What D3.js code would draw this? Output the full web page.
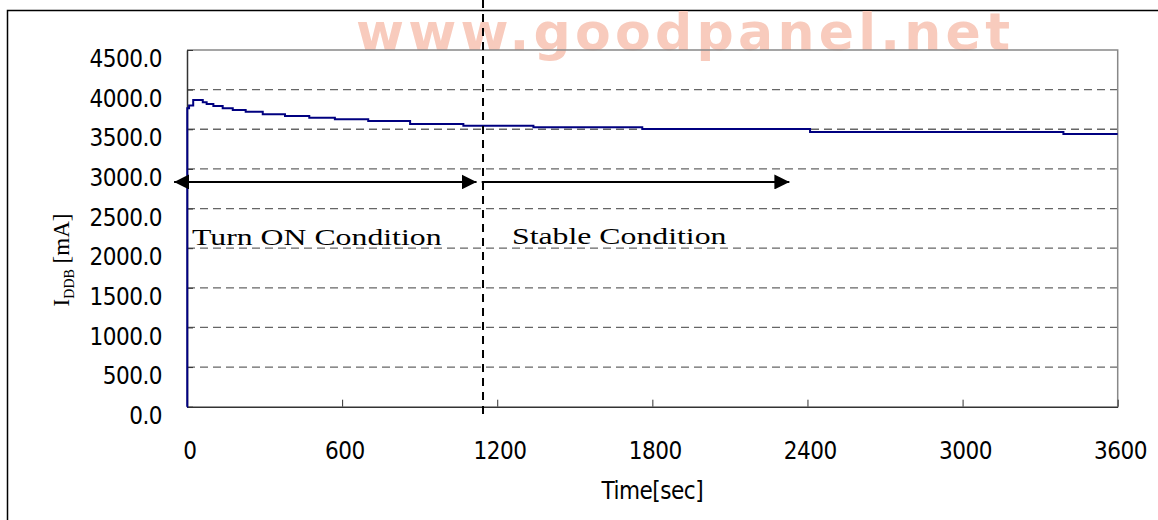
<!DOCTYPE html>
<html>
<head>
<meta charset="utf-8">
<script src="https://d3js.org/d3.v7.min.js"></script>
<style>
  body { margin: 0; background: #fff; }
  svg { display: block; }
</style>
</head>
<body>
<div id="chart"></div>
<script>
// time [sec] where the current changes, and the current [mA] from that time on
var times = [0, 1, 8, 24, 61, 76, 102, 138, 177, 227, 293, 379, 473, 572, 701, 863, 1069, 1340, 1761, 2410, 3390, 3600];
var current = [0, 3765, 3800, 3868, 3840, 3819, 3794, 3765, 3743, 3722, 3689, 3668, 3646, 3626, 3605, 3567, 3545, 3525, 3504, 3466, 3441, 3441];

// tick values of both axes
var xTicks = [0, 600, 1200, 1800, 2400, 3000, 3600];
var yTicks = [0, 500, 1000, 1500, 2000, 2500, 3000, 3500, 4000, 4500];

// annotations (in data units)
var markerTime = 1145; // vertical dashed line
var arrowLevel = 2835;
var turnOnRange = [-50, 1120];
var stableRange = [1140, 2330];

var W = 1158, H = 520;

// plot area in pixels
var plot = { left: 187, right: 1117.7, top: 50, bottom: 406.7 };

var x = d3.scaleLinear().domain([0, 3600]).range([plot.left, plot.right]);
var y = d3.scaleLinear().domain([0, 4500]).range([plot.bottom, plot.top]);

var tickFont = "'DejaVu Sans Condensed', 'DejaVu Sans', sans-serif";
var serifFont = "'Liberation Serif', 'Times New Roman', serif";

var svg = d3
  .select("#chart")
  .append("svg")
  .attr("width", W)
  .attr("height", H);

svg.append("rect").attr("width", W).attr("height", H).attr("fill", "#fff");

// outer frame, runs off the right and bottom edge
svg
  .append("rect")
  .attr("x", 7.5)
  .attr("y", 10.5)
  .attr("width", W + 20)
  .attr("height", H + 20)
  .style("fill", "none")
  .style("stroke", "#000")
  .style("stroke-width", 1.5);

// watermark behind the plot
svg
  .append("text")
  .attr("x", 356)
  .attr("y", 50)
  .attr("textLength", 654)
  .attr("lengthAdjust", "spacing")
  .style("font-family", "'DejaVu Sans', sans-serif")
  .style("font-weight", "bold")
  .style("font-size", "52px")
  .style("fill", "#f8cbbd")
  .text("www.goodpanel.net");

// dashed grid lines
svg
  .append("g")
  .selectAll("line")
  .data(yTicks.filter(function(d) { return d > 0 && d < 4500; }))
  .enter()
  .append("line")
  .attr("x1", plot.left)
  .attr("x2", plot.right)
  .attr("y1", function(d) { return y(d); })
  .attr("y2", function(d) { return y(d); })
  .style("stroke", "#666")
  .style("stroke-width", 1.3)
  .style("stroke-dasharray", "8,5");

// top and right border of the plot
svg
  .append("path")
  .attr("d", "M" + plot.left + "," + plot.top + "H" + plot.right + "V" + plot.bottom)
  .style("fill", "none")
  .style("stroke", "#888")
  .style("stroke-width", 1.5);

// x axis
var gx = svg
  .append("g")
  .attr("transform", "translate(0," + plot.bottom + ")")
  .call(d3.axisBottom(x).tickValues(xTicks).tickSize(-7).tickSizeOuter(0).tickFormat(d3.format("d")));
gx.select(".domain").style("stroke", "#333").style("stroke-width", 1.5);
gx.selectAll(".tick line").style("stroke", "#333");
gx.selectAll(".tick text")
  .attr("y", 52.6)
  .attr("dy", null)
  .attr("x", 2.3)
  .style("font-family", tickFont)
  .style("font-size", "24px")
  .style("letter-spacing", "-0.5px")
  .style("fill", "#000");

// y axis
var gy = svg
  .append("g")
  .attr("transform", "translate(" + plot.left + ",0)")
  .call(d3.axisLeft(y).tickValues(yTicks).tickSize(-6).tickSizeOuter(0).tickFormat(d3.format(".1f")));
gy.select(".domain").style("stroke", "#333").style("stroke-width", 1.5);
gy.selectAll(".tick line").style("stroke", "#333");
gy.selectAll(".tick text")
  .attr("x", -25)
  .attr("dy", null)
  .attr("y", 16.7)
  .style("font-family", tickFont)
  .style("font-size", "24px")
  .style("letter-spacing", "-0.5px")
  .style("fill", "#000");

// the current trace, stepped
var line = d3
  .line()
  .curve(d3.curveStepAfter)
  .x(function(d, i) { return x(times[i]); })
  .y(function(d) { return y(d); });

svg
  .append("path")
  .datum(current)
  .attr("d", line)
  .style("fill", "none")
  .style("stroke", "#000080")
  .style("stroke-width", 2);

// vertical marker line
svg
  .append("line")
  .attr("x1", x(markerTime))
  .attr("x2", x(markerTime))
  .attr("y1", 0)
  .attr("y2", 420)
  .style("stroke", "#000")
  .style("stroke-width", 2)
  .style("stroke-dasharray", "8,6");

// arrow heads
var defs = svg.append("defs");
defs
  .append("marker")
  .attr("id", "head")
  .attr("viewBox", "0 0 15 15")
  .attr("refX", 15)
  .attr("refY", 7.5)
  .attr("markerWidth", 15)
  .attr("markerHeight", 15)
  .attr("markerUnits", "userSpaceOnUse")
  .attr("orient", "auto-start-reverse")
  .append("path")
  .attr("d", "M0,0 L15,7.5 L0,15 Z")
  .style("fill", "#000");

svg
  .append("line")
  .attr("x1", x(turnOnRange[0]))
  .attr("x2", x(turnOnRange[1]))
  .attr("y1", y(arrowLevel))
  .attr("y2", y(arrowLevel))
  .attr("marker-start", "url(#head)")
  .attr("marker-end", "url(#head)")
  .style("stroke", "#000")
  .style("stroke-width", 2);

svg
  .append("line")
  .attr("x1", x(stableRange[0]))
  .attr("x2", x(stableRange[1]))
  .attr("y1", y(arrowLevel))
  .attr("y2", y(arrowLevel))
  .attr("marker-end", "url(#head)")
  .style("stroke", "#000")
  .style("stroke-width", 2);

// condition labels, stretched wide like the original
svg
  .append("text")
  .attr("transform", "translate(192,245) scale(1.4,1)")
  .style("font-family", serifFont)
  .style("font-size", "22.7px")
  .text("Turn ON Condition");

svg
  .append("text")
  .attr("transform", "translate(512,244) scale(1.4,1)")
  .style("font-family", serifFont)
  .style("font-size", "22.7px")
  .text("Stable Condition");

// x axis title
svg
  .append("text")
  .attr("x", (plot.left + plot.right) / 2)
  .attr("y", 499)
  .attr("text-anchor", "middle")
  .style("font-family", tickFont)
  .style("font-size", "24px")
  .style("letter-spacing", "-0.5px")
  .text("Time[sec]");

// y axis title with subscript
var yTitle = svg
  .append("text")
  .attr("transform", "translate(69,260) rotate(-90)")
  .attr("text-anchor", "middle")
  .style("font-family", serifFont)
  .style("font-size", "23px");
yTitle.append("tspan").text("I");
yTitle.append("tspan").attr("dy", 5).style("font-size", "14px").text("DDB");
yTitle.append("tspan").attr("dy", -5).text(" [mA]");
</script>
</body>
</html>
